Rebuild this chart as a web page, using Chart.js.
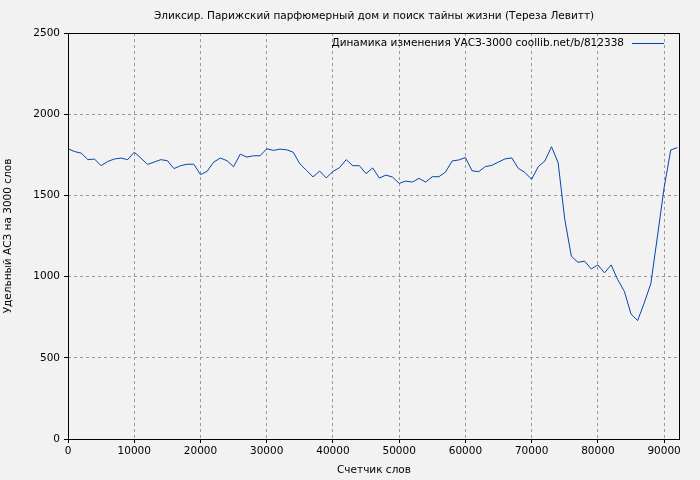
<!DOCTYPE html>
<html>
<head>
<meta charset="utf-8">
<script src="https://cdn.jsdelivr.net/npm/chart.js@4/dist/chart.umd.min.js"></script>
<style>
  html, body { margin: 0; padding: 0; background: #f2f2f2; }
  #wrap { width: 700px; height: 480px; }
</style>
</head>
<body>
<div id="wrap"><canvas id="myChart" width="700" height="480"></canvas></div>
<script>
const chartTitle = 'Эликсир. Парижский парфюмерный дом и поиск тайны жизни (Тереза Левитт)';
const seriesLabel = 'Динамика изменения УАСЗ-3000 coollib.net/b/812338';
const words = [];
for (let i = 0; i <= 92; i++) words.push(i * 1000);
const values = [
  1787, 1770, 1760, 1720, 1724, 1683, 1709, 1724, 1730, 1720,
  1766, 1730, 1691, 1705, 1720, 1714, 1665, 1683, 1692, 1692,
  1628, 1648, 1705, 1730, 1714, 1677, 1754, 1736, 1744, 1744,
  1787, 1777, 1785, 1781, 1766, 1695, 1654, 1614, 1650, 1607,
  1648, 1671, 1720, 1683, 1683, 1634, 1669, 1607, 1625, 1613,
  1574, 1588, 1582, 1605, 1582, 1615, 1615, 1644, 1712, 1718,
  1733, 1652, 1646, 1677, 1685, 1706, 1725, 1731, 1666, 1641,
  1599, 1677, 1712, 1800, 1701, 1352, 1125, 1088, 1095, 1047,
  1072, 1023, 1072, 981, 909, 770, 729, 838, 957, 1249,
  1547, 1780, 1794
];
const xMax = 92400;
const xTicks = [0, 10000, 20000, 30000, 40000, 50000, 60000, 70000, 80000, 90000];
const yTicks = [0, 500, 1000, 1500, 2000, 2500];

const fontFamily = 'DejaVu Sans';
const fontSize = 10.5;

const decor = {
  id: 'decor',
  beforeDraw: (chart) => {
    const { ctx } = chart;
    ctx.save();
    ctx.fillStyle = '#f2f2f2';
    ctx.fillRect(0, 0, chart.width, chart.height);
    ctx.restore();
  },
  afterDraw: (chart) => {
    const { ctx, chartArea: { left, right, top, bottom } } = chart;
    ctx.save();
    ctx.strokeStyle = '#000';
    ctx.lineWidth = 1;
    ctx.strokeRect(left + 0.5, top + 0.5, right - left - 1, bottom - top);
    ctx.font = fontSize + 'px ' + fontFamily;
    ctx.fillStyle = '#000';
    ctx.textAlign = 'center';
    ctx.textBaseline = 'middle';
    ctx.fillText(chartTitle, (left + right) / 2, 16);
    ctx.textAlign = 'right';
    ctx.fillText(seriesLabel, right - 56, top + 10);
    ctx.strokeStyle = '#0645ad';
    ctx.beginPath();
    ctx.moveTo(right - 48, top + 10.5);
    ctx.lineTo(right - 16, top + 10.5);
    ctx.stroke();
    ctx.restore();
  }
};

new Chart(document.getElementById('myChart').getContext('2d'), {
  type: 'line',
  data: {
    datasets: [{
      data: words.map((w, i) => ({ x: w, y: values[i] })),
      borderColor: '#0645ad',
      borderWidth: 1,
      pointRadius: 0,
      tension: 0,
      fill: false
    }]
  },
  options: {
    responsive: false,
    animation: false,
    layout: { padding: { top: 33, right: 20, left: 0, bottom: 3 } },
    plugins: { legend: { display: false }, title: { display: false }, tooltip: { enabled: false } },
    scales: {
      x: {
        type: 'linear',
        min: 0,
        max: xMax,
        afterFit: (s) => { s.height = 38; },
        afterBuildTicks: (s) => { s.ticks = xTicks.map(v => ({ value: v })); },
        grid: { color: '#999', tickLength: 4, tickColor: '#000' },
        border: { display: false, dash: [3, 3] },
        ticks: { color: '#000', font: { family: fontFamily, size: fontSize }, maxRotation: 0, padding: 2, callback: (v) => String(v) },
        title: { display: true, text: 'Счетчик слов', color: '#000', font: { family: fontFamily, size: fontSize }, padding: 0 }
      },
      y: {
        min: 0,
        max: 2500,
        afterFit: (s) => { s.width = 68; },
        afterBuildTicks: (s) => { s.ticks = yTicks.map(v => ({ value: v })); },
        grid: { color: '#999', tickLength: 4, tickColor: '#000' },
        border: { display: false, dash: [3, 3] },
        ticks: { color: '#000', font: { family: fontFamily, size: fontSize }, padding: 4, callback: (v) => String(v) },
        title: { display: true, text: 'Удельный АСЗ на 3000 слов', color: '#000', font: { family: fontFamily, size: fontSize }, padding: 2 }
      }
    }
  },
  plugins: [decor]
});
</script>
</body>
</html>
